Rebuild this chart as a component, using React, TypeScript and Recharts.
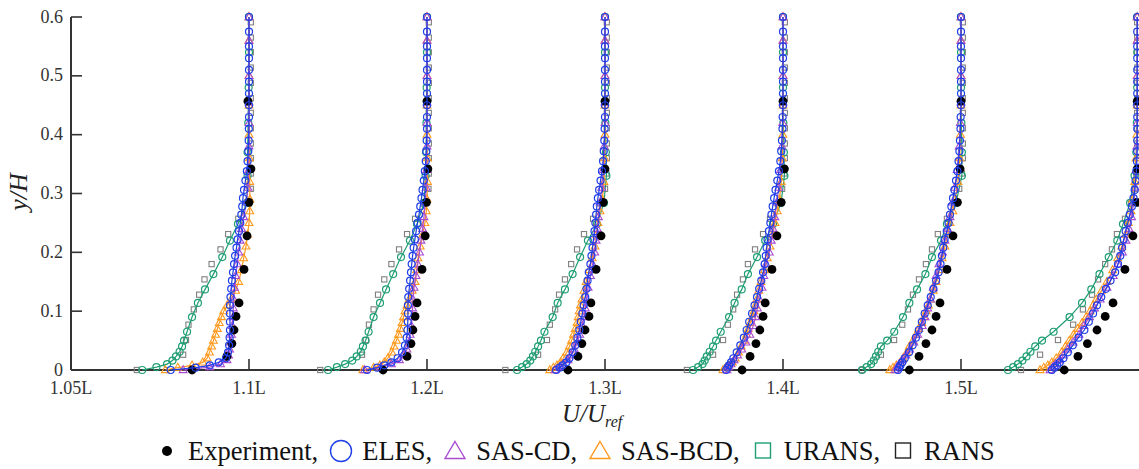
import React from "react";
import { ScatterChart, Scatter, XAxis, YAxis } from "recharts";

// stations (profile positions on the x axis, U/Uref = 1 lies on the tick)
const stations = [1, 2, 3, 4, 5, 6];
const xTicks = [0, 1, 2, 3, 4, 5];
const xTickLabels = ["1.05L", "1.1L", "1.2L", "1.3L", "1.4L", "1.5L"];
const yTicks = [0, 0.1, 0.2, 0.3, 0.4, 0.5, 0.6];

// y/H levels of each data set
const yExp = [0, 0.023, 0.045, 0.068, 0.091, 0.114, 0.171, 0.228, 0.285, 0.342, 0.457];
const yEles = [0, 0.004, 0.008, 0.013, 0.02, 0.03, 0.042, 0.055, 0.068, 0.082, 0.096, 0.11, 0.124, 0.138, 0.152, 0.166, 0.18, 0.194, 0.208, 0.222, 0.236, 0.25, 0.264, 0.278, 0.292, 0.306, 0.322, 0.338, 0.355, 0.372, 0.39, 0.41, 0.43, 0.45, 0.47, 0.49, 0.51, 0.53, 0.55, 0.575, 0.6];
const ySasCd = [0, 0.005, 0.01, 0.017, 0.025, 0.035, 0.047, 0.06, 0.075, 0.09, 0.105, 0.12, 0.14, 0.16, 0.18, 0.2, 0.22, 0.24, 0.26, 0.285, 0.31, 0.34, 0.38, 0.42, 0.455, 0.5, 0.56, 0.6];
const ySasBcd = [0, 0.004, 0.008, 0.013, 0.02, 0.03, 0.04, 0.05, 0.06, 0.07, 0.08, 0.09, 0.1, 0.11, 0.12, 0.135, 0.15, 0.17, 0.19, 0.21, 0.23, 0.25, 0.27, 0.29, 0.32, 0.36, 0.4, 0.45, 0.5, 0.56, 0.6];
const yUrans = [0, 0.005, 0.01, 0.016, 0.023, 0.031, 0.04, 0.05, 0.065, 0.09, 0.114, 0.137, 0.163, 0.192, 0.22, 0.248, 0.284, 0.33, 0.37, 0.42, 0.48, 0.54, 0.6];
const yRans = [0, 0.026, 0.051, 0.077, 0.103, 0.128, 0.154, 0.18, 0.205, 0.231, 0.257, 0.283, 0.308, 0.334, 0.36, 0.385, 0.411, 0.437, 0.462, 0.488, 0.514, 0.54, 0.565, 0.591];

// velocity deficit 1 - U/Uref, one row per station
const expDeficit = [
  [0.32, 0.124, 0.096, 0.084, 0.073, 0.056, 0.028, 0.011, 0, -0.011, 0.006],
  [0.247, 0.112, 0.09, 0.079, 0.067, 0.056, 0.028, 0.01, 0.003, -0.005, 0],
  [0.208, 0.152, 0.13, 0.112, 0.09, 0.079, 0.05, 0.022, 0.01, 0, 0],
  [0.23, 0.185, 0.152, 0.13, 0.112, 0.1, 0.062, 0.034, 0.01, -0.008, 0],
  [0.29, 0.236, 0.197, 0.163, 0.14, 0.118, 0.079, 0.045, 0.02, 0.005, 0],
  [0.42, 0.343, 0.29, 0.236, 0.19, 0.146, 0.079, 0.034, 0.012, 0.01, 0.01],
];

const elesDeficit = [
  [0.44, 0.3, 0.22, 0.17, 0.13, 0.118, 0.112, 0.109, 0.107, 0.107, 0.107, 0.107, 0.104, 0.1, 0.096, 0.09, 0.084, 0.078, 0.07, 0.064, 0.056, 0.049, 0.043, 0.038, 0.034, 0.028, 0.02, 0.012, 0.008, 0.004, 0.002, 0.001, 0, 0, 0, 0, 0, 0, 0, 0, 0],
  [0.337, 0.28, 0.24, 0.2, 0.165, 0.14, 0.124, 0.114, 0.11, 0.108, 0.107, 0.107, 0.105, 0.1, 0.095, 0.09, 0.086, 0.081, 0.075, 0.068, 0.061, 0.053, 0.045, 0.038, 0.031, 0.025, 0.018, 0.012, 0.007, 0.004, 0.002, 0, 0, 0, 0, 0, 0, 0, 0, 0, 0],
  [0.275, 0.255, 0.238, 0.217, 0.2, 0.182, 0.167, 0.155, 0.144, 0.136, 0.127, 0.12, 0.111, 0.104, 0.098, 0.091, 0.082, 0.076, 0.07, 0.065, 0.059, 0.054, 0.05, 0.046, 0.04, 0.033, 0.025, 0.017, 0.011, 0.007, 0.004, 0.002, 0, 0, 0, 0, 0, 0, 0, 0, 0],
  [0.32, 0.312, 0.303, 0.292, 0.279, 0.26, 0.24, 0.22, 0.204, 0.19, 0.174, 0.16, 0.146, 0.134, 0.122, 0.112, 0.103, 0.097, 0.092, 0.087, 0.079, 0.071, 0.065, 0.058, 0.05, 0.042, 0.032, 0.023, 0.015, 0.01, 0.006, 0.003, 0.002, 0, 0, 0, 0, 0, 0, 0, 0],
  [0.354, 0.347, 0.34, 0.33, 0.316, 0.292, 0.272, 0.253, 0.237, 0.22, 0.204, 0.187, 0.17, 0.155, 0.14, 0.126, 0.115, 0.107, 0.1, 0.092, 0.08, 0.07, 0.062, 0.054, 0.045, 0.037, 0.028, 0.02, 0.014, 0.009, 0.006, 0.003, 0.002, 0, 0, 0, 0, 0, 0, 0, 0],
  [0.49, 0.475, 0.46, 0.445, 0.425, 0.4, 0.372, 0.34, 0.307, 0.282, 0.258, 0.236, 0.212, 0.186, 0.16, 0.134, 0.118, 0.105, 0.095, 0.086, 0.075, 0.063, 0.052, 0.04, 0.031, 0.024, 0.019, 0.015, 0.012, 0.01, 0.01, 0.01, 0.01, 0.01, 0.01, 0.01, 0.01, 0.01, 0.01, 0.01, 0.01],
];

const sasCdDeficit = [
  [0.37, 0.22, 0.16, 0.124, 0.115, 0.109, 0.104, 0.098, 0.094, 0.09, 0.088, 0.086, 0.082, 0.075, 0.066, 0.058, 0.05, 0.042, 0.03, 0.015, 0.006, 0.002, 0, 0, 0, 0, 0, 0],
  [0.35, 0.26, 0.2, 0.155, 0.13, 0.113, 0.102, 0.095, 0.088, 0.084, 0.081, 0.079, 0.073, 0.062, 0.052, 0.042, 0.034, 0.025, 0.017, 0.01, 0.005, 0.002, 0, 0, 0, 0, 0, 0],
  [0.28, 0.255, 0.235, 0.208, 0.19, 0.172, 0.156, 0.142, 0.128, 0.118, 0.111, 0.104, 0.095, 0.082, 0.07, 0.058, 0.05, 0.043, 0.037, 0.028, 0.018, 0.01, 0.004, 0, 0, 0, 0, 0],
  [0.315, 0.305, 0.292, 0.275, 0.255, 0.232, 0.208, 0.186, 0.167, 0.155, 0.144, 0.132, 0.118, 0.108, 0.095, 0.077, 0.066, 0.056, 0.046, 0.035, 0.024, 0.014, 0.006, 0.002, 0, 0, 0, 0],
  [0.37, 0.36, 0.348, 0.33, 0.31, 0.288, 0.265, 0.243, 0.218, 0.202, 0.187, 0.172, 0.156, 0.14, 0.124, 0.104, 0.09, 0.075, 0.062, 0.048, 0.034, 0.022, 0.01, 0.004, 0, 0, 0, 0],
  [0.5, 0.485, 0.47, 0.445, 0.425, 0.4, 0.37, 0.337, 0.31, 0.278, 0.25, 0.218, 0.18, 0.145, 0.118, 0.093, 0.073, 0.056, 0.042, 0.03, 0.022, 0.016, 0.012, 0.01, 0.01, 0.01, 0.01, 0.01],
];

const sasBcdDeficit = [
  [0.47, 0.4, 0.32, 0.26, 0.235, 0.222, 0.21, 0.2, 0.188, 0.178, 0.167, 0.155, 0.142, 0.122, 0.1, 0.075, 0.058, 0.042, 0.03, 0.017, 0.008, 0, -0.004, -0.005, -0.004, -0.002, 0, 0, 0, 0, 0],
  [0.36, 0.3, 0.265, 0.24, 0.22, 0.198, 0.185, 0.172, 0.16, 0.15, 0.14, 0.132, 0.124, 0.112, 0.1, 0.083, 0.067, 0.058, 0.051, 0.038, 0.024, 0.012, 0.004, 0, -0.003, -0.002, 0, 0, 0, 0, 0],
  [0.31, 0.29, 0.27, 0.25, 0.235, 0.215, 0.2, 0.188, 0.177, 0.167, 0.157, 0.151, 0.145, 0.138, 0.13, 0.118, 0.106, 0.088, 0.072, 0.056, 0.047, 0.04, 0.028, 0.015, 0.006, 0.002, 0, 0, 0, 0, 0],
  [0.337, 0.322, 0.305, 0.285, 0.268, 0.25, 0.235, 0.218, 0.205, 0.195, 0.185, 0.173, 0.163, 0.155, 0.147, 0.136, 0.123, 0.104, 0.088, 0.073, 0.059, 0.045, 0.032, 0.02, 0.01, 0.004, 0.001, 0, 0, 0, 0],
  [0.4, 0.382, 0.363, 0.342, 0.325, 0.305, 0.29, 0.27, 0.253, 0.237, 0.22, 0.208, 0.195, 0.183, 0.172, 0.155, 0.14, 0.122, 0.106, 0.09, 0.075, 0.062, 0.046, 0.032, 0.017, 0.007, 0.003, 0, 0, 0, 0],
  [0.556, 0.535, 0.512, 0.49, 0.465, 0.435, 0.413, 0.392, 0.368, 0.345, 0.32, 0.297, 0.275, 0.258, 0.24, 0.21, 0.18, 0.148, 0.12, 0.097, 0.075, 0.06, 0.045, 0.035, 0.024, 0.016, 0.012, 0.01, 0.01, 0.01, 0.01],
];

const uransDeficit = [
  [0.6, 0.52, 0.46, 0.43, 0.41, 0.39, 0.376, 0.365, 0.348, 0.32, 0.287, 0.247, 0.2, 0.15, 0.107, 0.062, 0.012, 0.008, 0.008, 0.004, 0.002, 0, 0],
  [0.556, 0.506, 0.46, 0.42, 0.395, 0.372, 0.36, 0.345, 0.328, 0.3, 0.264, 0.23, 0.19, 0.146, 0.096, 0.056, 0.017, 0.008, 0.005, 0.003, 0.002, 0, 0],
  [0.494, 0.466, 0.44, 0.42, 0.405, 0.392, 0.376, 0.36, 0.34, 0.294, 0.266, 0.225, 0.182, 0.14, 0.096, 0.045, 0.006, -0.008, -0.005, -0.002, 0, 0, 0],
  [0.505, 0.477, 0.452, 0.44, 0.428, 0.412, 0.393, 0.376, 0.35, 0.303, 0.272, 0.232, 0.197, 0.146, 0.1, 0.056, 0.011, -0.008, -0.005, -0.002, 0, 0, 0],
  [0.556, 0.53, 0.505, 0.49, 0.478, 0.465, 0.45, 0.415, 0.375, 0.326, 0.29, 0.247, 0.2, 0.163, 0.112, 0.079, 0.028, -0.005, -0.005, -0.002, 0, 0, 0],
  [0.736, 0.707, 0.68, 0.655, 0.632, 0.61, 0.583, 0.545, 0.48, 0.39, 0.32, 0.268, 0.222, 0.17, 0.122, 0.09, 0.05, 0.025, 0.015, 0.012, 0.01, 0.01, 0.01],
];

const ransDeficit = [
  [0.63, 0.37, 0.354, 0.34, 0.31, 0.28, 0.25, 0.21, 0.16, 0.117, 0.06, 0, -0.01, -0.01, -0.01, -0.01, -0.01, -0.01, -0.01, -0.01, -0.01, -0.01, -0.01, -0.01],
  [0.6, 0.365, 0.343, 0.326, 0.3, 0.275, 0.24, 0.2, 0.157, 0.112, 0.067, 0.02, -0.008, -0.01, -0.01, -0.01, -0.01, -0.01, -0.01, -0.01, -0.01, -0.01, -0.01, -0.01],
  [0.56, 0.376, 0.326, 0.31, 0.28, 0.258, 0.225, 0.19, 0.157, 0.118, 0.067, 0.025, 0, -0.008, -0.01, -0.01, -0.01, -0.01, -0.01, -0.01, -0.01, -0.01, -0.01, -0.01],
  [0.54, 0.393, 0.337, 0.31, 0.28, 0.258, 0.225, 0.197, 0.157, 0.112, 0.073, 0.03, 0.005, -0.008, -0.01, -0.01, -0.01, -0.01, -0.01, -0.01, -0.01, -0.01, -0.01, -0.01],
  [0.556, 0.45, 0.376, 0.33, 0.298, 0.27, 0.236, 0.197, 0.163, 0.13, 0.079, 0.04, 0.01, -0.005, -0.01, -0.01, -0.01, -0.01, -0.01, -0.01, -0.01, -0.01, -0.01, -0.01],
  [0.663, 0.556, 0.455, 0.37, 0.315, 0.264, 0.23, 0.19, 0.152, 0.124, 0.079, 0.045, 0.025, 0.015, 0.01, 0.01, 0.01, 0.01, 0.01, 0.01, 0.01, 0.01, 0.01, 0.01],
];

const FONT = "'Liberation Serif', 'Times New Roman', serif";
const AXIS = "#333333";
const C_EXP = "#000000";
const C_ELES = "#1f3fe8";
const C_CD = "#a84cd0";
const C_BCD = "#ff9a1f";
const C_URANS = "#1f9e74";
const C_RANS = "#808080";

const toPoints = (ys: number[], def: number[], station: number) =>
  ys.map((y, i) => ({ x: station - def[i], y }));

const dotShape = (p: any) => <circle cx={p.cx} cy={p.cy} r={4.4} fill={C_EXP} />;
const circleShape = (color: string) => (p: any) => (
  <circle cx={p.cx} cy={p.cy} r={3.5} fill="none" stroke={color} strokeWidth={1.2} />
);
const triShape = (color: string) => (p: any) => (
  <path
    d={`M${p.cx},${p.cy - 4.3}L${p.cx + 3.9},${p.cy + 2.6}L${p.cx - 3.9},${p.cy + 2.6}Z`}
    fill="none"
    stroke={color}
    strokeWidth={1.1}
  />
);
const squareShape = (p: any) => (
  <rect x={p.cx - 2.6} y={p.cy - 2.6} width={5.2} height={5.2} fill="none" stroke={C_RANS} strokeWidth={1.1} />
);

// draw order: bottom first
const series = [
  { key: "rans", ys: yRans, def: ransDeficit, color: C_RANS, line: false, shape: squareShape },
  { key: "urans", ys: yUrans, def: uransDeficit, color: C_URANS, line: true, shape: circleShape(C_URANS) },
  { key: "bcd", ys: ySasBcd, def: sasBcdDeficit, color: C_BCD, line: true, shape: triShape(C_BCD) },
  { key: "cd", ys: ySasCd, def: sasCdDeficit, color: C_CD, line: true, shape: triShape(C_CD) },
  { key: "exp", ys: yExp, def: expDeficit, color: C_EXP, line: false, shape: dotShape },
  { key: "eles", ys: yEles, def: elesDeficit, color: C_ELES, line: true, shape: circleShape(C_ELES) },
];

const XTick = (p: any) => {
  const label = xTickLabels[xTicks.indexOf(p.payload.value)];
  return (
    <g>
      <line x1={p.x} y1={p.y} x2={p.x} y2={p.y - 11} stroke={AXIS} strokeWidth={1.6} />
      <text x={p.x} y={p.y + 24} textAnchor="middle" fontFamily={FONT} fontSize={18} fill={AXIS}>
        {label}
      </text>
    </g>
  );
};

const YTick = (p: any) => (
  <g>
    <line x1={p.x} y1={p.y} x2={p.x + 11} y2={p.y} stroke={AXIS} strokeWidth={1.6} />
    <text x={p.x - 8} y={p.y + 5.5} textAnchor="end" fontFamily={FONT} fontSize={18} fill={AXIS}>
      {String(p.payload.value)}
    </text>
  </g>
);

const LegendItem = ({ icon, text }: { icon: React.ReactNode; text: string }) => (
  <span style={{ display: "flex", alignItems: "center", marginRight: 12 }}>
    <svg width={22} height={24} style={{ marginRight: 10, overflow: "visible" }}>
      {icon}
    </svg>
    <span>{text}</span>
  </span>
);

export default function App() {
  return (
    <div style={{ position: "absolute", left: 0, top: 0, width: 1139, height: 469, background: "#fff", fontFamily: FONT }}>
      <ScatterChart width={1139} height={400} margin={{ top: 17, right: 0, bottom: 0, left: 0 }}>
        <XAxis
          type="number"
          dataKey="x"
          domain={[0, 6]}
          ticks={xTicks}
          interval={0}
          tick={XTick}
          tickLine={false}
          tickSize={0}
          tickMargin={0}
          axisLine={{ stroke: AXIS, strokeWidth: 2 }}
          height={30}
        />
        <YAxis
          type="number"
          dataKey="y"
          domain={[0, 0.6]}
          ticks={yTicks}
          interval={0}
          tick={YTick}
          tickLine={false}
          tickSize={0}
          tickMargin={0}
          axisLine={{ stroke: AXIS, strokeWidth: 2 }}
          width={71}
        />
        {series.map((s) =>
          stations.map((st, k) => (
            <Scatter
              key={s.key + st}
              data={toPoints(s.ys, s.def[k], st)}
              shape={s.shape}
              line={s.line ? { stroke: s.color, strokeWidth: 1.2 } : false}
              isAnimationActive={false}
            />
          ))
        )}
      </ScatterChart>

      <div
        style={{
          position: "absolute",
          left: 19,
          top: 192,
          transform: "translate(-50%, -50%) rotate(-90deg)",
          fontStyle: "italic",
          fontSize: 26,
          lineHeight: 1,
          whiteSpace: "nowrap",
          color: "#222",
        }}
      >
        y/H
      </div>

      <div
        style={{
          position: "absolute",
          left: 562,
          top: 401,
          fontStyle: "italic",
          fontSize: 25,
          lineHeight: 1,
          whiteSpace: "nowrap",
          color: "#222",
        }}
      >
        U/U<sub style={{ fontSize: 16, verticalAlign: "-5px" }}>ref</sub>
      </div>

      <div
        style={{
          position: "absolute",
          left: 156,
          top: 438,
          display: "flex",
          alignItems: "center",
          fontSize: 26.5,
          lineHeight: 1,
          whiteSpace: "nowrap",
          color: "#111",
        }}
      >
        <LegendItem icon={<circle cx={11} cy={12} r={5} fill={C_EXP} />} text="Experiment," />
        <LegendItem icon={<circle cx={11} cy={12} r={10.5} fill="none" stroke={C_ELES} strokeWidth={1.4} />} text="ELES," />
        <LegendItem icon={<path d="M11,2.5L21,19.5L1,19.5Z" fill="none" stroke={C_CD} strokeWidth={1.4} />} text="SAS-CD," />
        <LegendItem icon={<path d="M11,2.5L21,19.5L1,19.5Z" fill="none" stroke={C_BCD} strokeWidth={1.4} />} text="SAS-BCD," />
        <LegendItem icon={<rect x={3.5} y={4} width={15} height={15} fill="none" stroke={C_URANS} strokeWidth={1.4} />} text="URANS," />
        <LegendItem icon={<rect x={3.5} y={4} width={15} height={15} fill="none" stroke="#222" strokeWidth={1.4} />} text="RANS" />
      </div>
    </div>
  );
}
